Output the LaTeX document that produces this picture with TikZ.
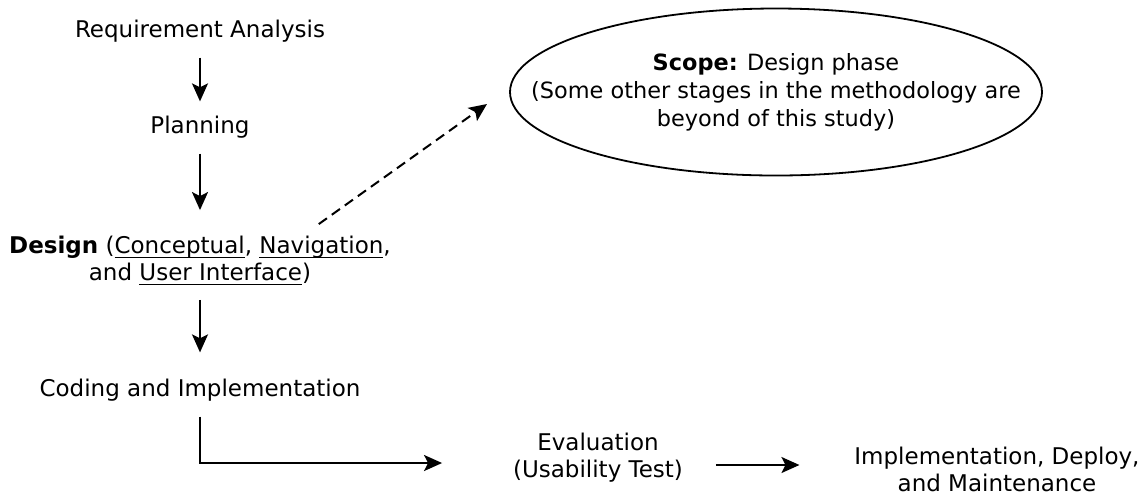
\documentclass[tikz,border=0pt]{standalone}
\usepackage{fontspec}
\setmainfont{DejaVu Sans}
\usetikzlibrary{arrows.meta,shapes.geometric}
\newcommand{\uln}[1]{\setbox0\hbox{#1}\rlap{\rule[-2.2pt]{\wd0}{0.6pt}}\box0}

\begin{document}
\begin{tikzpicture}[
    x=0.5pt, y=-0.5pt,
    >={Stealth[length=9pt,width=8pt,inset=2pt]},
    flow/.style={->, draw, line width=1pt},
    every node/.style={ align=center,
                        font=\fontsize{11.5}{13.5}\selectfont,
                        inner sep=0pt,
                        outer sep=7.5pt}]

    \useasboundingbox (0,0) rectangle (1142,495);

    \node (req) at (200,31.5) {Requirement Analysis};
    \node (plan) at (200,127.5) {Planning};
    \node (design) at (200,260.5) {\textbf{Design} (\uln{Conceptual}, \uln{Navigation},\\and \uln{User Interface})};
    \node (coding) at (200,390.5) {Coding and Implementation};
    \node (eval) at (598,458) {Evaluation\\(Usability Test)};
    \node (deploy) at (997,469) {Implementation, Deploy,\\and Maintenance};

    \node[draw, ellipse, line width=0.9pt, outer sep=0pt,
          minimum width=266pt, minimum height=83.5pt] (scope) at (776,92) {};
    \node[font=\fontsize{11.2}{14}\selectfont] (scopetext) at (scope) {\textbf{Scope:} Design phase\\(Some other stages in the methodology are\\beyond of this study)};

    \draw[flow] (req) -- (plan);
    \draw[flow, shorten >=5.5pt] (plan) -- (design);
    \draw[flow, shorten >=6pt] (design) -- (coding);
    \draw[flow, shorten >=28pt] (coding.south) |- ([yshift=-2.5pt]eval.west);
    \draw[flow, shorten <=9pt, shorten >=20pt] ([yshift=-3.5pt]eval.east) -- ([yshift=-3.5pt]eval.east -| deploy.west);
    \draw[flow, dash pattern=on 5pt off 3pt] ([xshift=-43.5pt,yshift=-1.5pt]design.north east) -- ([xshift=-11.5pt,yshift=-6pt]scope.west);

\end{tikzpicture}
\end{document}
